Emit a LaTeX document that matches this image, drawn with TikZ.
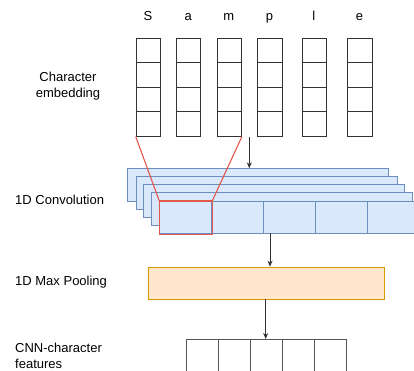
\documentclass[tikz,border=0pt]{standalone}
\usepackage{fontspec}
\setmainfont{Liberation Sans}
\usetikzlibrary{arrows.meta}
\definecolor{convfill}{HTML}{DAE8FC}
\definecolor{convline}{HTML}{6C8EBF}
\definecolor{poolfill}{HTML}{FFE6CC}
\definecolor{poolline}{HTML}{D79B00}
\definecolor{redline}{HTML}{E2574C}
\definecolor{dark}{HTML}{333333}
\definecolor{cellgray}{HTML}{555555}
\tikzset{
  lbl/.style={font=\fontsize{13}{16}\selectfont, inner sep=0pt},
  letter/.style={font=\fontsize{13}{16}\selectfont, inner sep=0pt, anchor=base},
  embcell/.style={draw=dark, line width=0.9pt, minimum width=24.3pt, minimum height=24.5pt, inner sep=0pt, anchor=north west},
  convlayer/.style={draw=convline, fill=convfill, line width=0.9pt, minimum width=261pt, minimum height=32.7pt, inner sep=0pt, anchor=north west},
  convcell/.style={draw=convline, fill=convfill, line width=0.9pt, minimum width=52pt, minimum height=32.3pt, inner sep=0pt, anchor=north west},
  poolbox/.style={draw=poolline, fill=poolfill, line width=0.9pt, minimum width=236.6pt, minimum height=32.3pt, inner sep=0pt, anchor=north west},
  featcell/.style={draw=cellgray, line width=0.9pt, minimum width=32pt, minimum height=45pt, inner sep=0pt, anchor=north west},
  arr/.style={draw=dark, line width=0.9pt, -{Stealth[length=6pt,width=5pt]}},
  redl/.style={draw=redline, line width=1.1pt}
}
\begin{document}
\begin{tikzpicture}[x=1pt,y=-1pt]
\useasboundingbox (0,0) rectangle (414,371);

% letters and embedding columns
\foreach \L/\x [count=\i] in {S/135.7,a/176,m/216.7,p/257.3,l/301.7,e/347.3}{
  \node[letter] (t\i) at (\x+12.15,20.7) {\L};
  \foreach \r in {1,...,4}{
    \node[embcell] (e\i-\r) at (\x,{37.7+24.5*(\r-1)}) {};
  }
}

% labels
\node[lbl, align=center] (lemb) at (68,86) {Character\\embedding};
\node[lbl, anchor=west] (lconv) at (15,200) {1D Convolution};
\node[lbl, anchor=west] (lpool) at (15,282) {1D Max Pooling};
\node[lbl, anchor=west, align=left] (lfeat) at (15,355.5) {CNN-character\\features};

% convolution layers
\node[convlayer] (r1) at (127.3,168.3) {};
\node[convlayer] (r2) at (135.5,176.3) {};
\node[convlayer] (r3) at (143.4,184.3) {};
\node[convlayer] (r4) at (151.4,192.3) {};
\foreach \i in {0,...,4}{
  \node[convcell] (c\i) at ({159.3+52*\i},201) {};
}
% highlighted (red) kernel cell
\draw[redl] (c0.north west) rectangle (c0.south east);

% red receptive field lines
\draw[redl] (e1-4.south west) -- (c0.north west);
\draw[redl] (e3-4.south east) -- (c0.north east);

% pooling
\node[poolbox] (pool) at (147.7,266.7) {};

% features
\foreach \i in {0,...,4}{
  \node[featcell] (f\i) at ({185.7+32*\i},339) {};
}

% arrows
\coordinate (a1) at (249.3,137.5);
\draw[arr] (a1) -- (a1 |- r1.north);
\coordinate (a2) at (270,233.3);
\draw[arr] (a2) -- (a2 |- pool.north);
\coordinate (a3) at (265.7,299);
\draw[arr] (a3) -- (a3 |- f2.north);
\end{tikzpicture}
\end{document}
